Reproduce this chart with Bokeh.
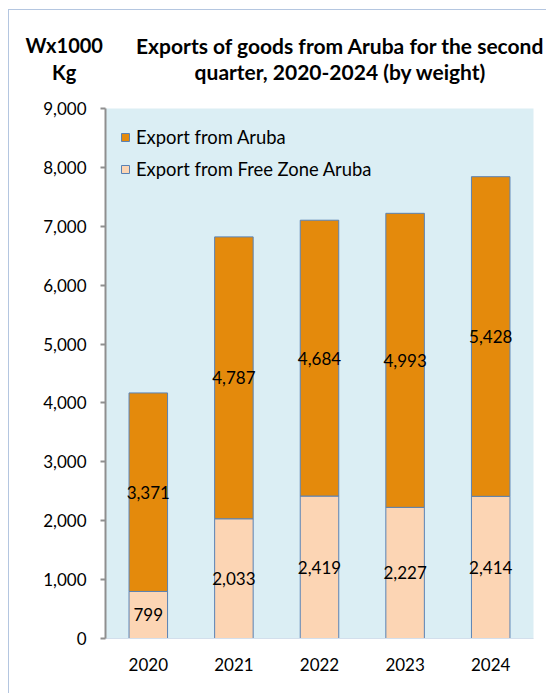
from bokeh.plotting import figure
from bokeh.models import (ColumnDataSource, Label, LabelSet, NumeralTickFormatter,
                          Range1d, FactorRange, Legend, LegendItem, FixedTicker)
from bokeh.embed import file_html
from bokeh.resources import INLINE
from bokeh.core.properties import value

# ---- data ----
years = ["2020", "2021", "2022", "2023", "2024"]
free_zone = [799, 2033, 2419, 2227, 2414]
aruba = [3371, 4787, 4684, 4993, 5428]
y_ticks = [0, 1000, 2000, 3000, 4000, 5000, 6000, 7000, 8000, 9000]
series_names = ["Export from Aruba", "Export from Free Zone Aruba"]
title_lines = ["Exports of goods from Aruba for the second", "quarter, 2020-2024 (by weight)"]
unit_lines = ["Wx1000", "Kg"]

totals = [a + f for a, f in zip(aruba, free_zone)]
src = ColumnDataSource(dict(
    year=years,
    fz=free_zone,
    total=totals,
    fz_mid=[f / 2 for f in free_zone],
    ar_mid=[f + a / 2 for f, a in zip(free_zone, aruba)],
    fz_lbl=[f"{v:,}" for v in free_zone],
    ar_lbl=[f"{v:,}" for v in aruba],
))

FONT = "Lato"
ORANGE = "#E48A0C"
PEACH = "#FCD5B4"
EDGE = "#5A82B4"
BG = "#DBEEF4"

p = figure(x_range=FactorRange(*years), y_range=Range1d(0, 9000),
           width=538, height=684, output_backend="svg", toolbar_location=None,
           min_border_left=96, min_border_right=14, min_border_top=98, min_border_bottom=56)
p.margin = (9, 0, 0, 8)
p.styles = {"border-left": "1px solid #B4C6E0", "border-top": "1px solid #B4C6E0"}

p.background_fill_color = BG
p.border_fill_color = "white"
p.outline_line_color = None
p.xgrid.grid_line_color = None
p.ygrid.grid_line_color = None

r_fz = p.vbar(x="year", bottom=0, top="fz", width=0.45, source=src,
              fill_color=PEACH, line_color=EDGE, line_width=1)
r_ar = p.vbar(x="year", bottom="fz", top="total", width=0.45, source=src,
              fill_color=ORANGE, line_color=EDGE, line_width=1)

for col_y, col_t in (("fz_mid", "fz_lbl"), ("ar_mid", "ar_lbl")):
    p.add_layout(LabelSet(x="year", y=col_y, text=col_t, source=src,
                          text_align="center", text_baseline="middle",
                          text_font=value(FONT), text_font_size="17px", text_color="black"))

p.yaxis.ticker = FixedTicker(ticks=y_ticks)
p.yaxis.formatter = NumeralTickFormatter(format="0,0")
p.yaxis.major_label_text_font = FONT
p.yaxis.major_label_text_font_size = "17px"
p.yaxis.major_label_text_color = "black"
p.yaxis.axis_line_color = "#8F8F8F"
p.yaxis.axis_line_width = 2
p.yaxis.major_tick_line_color = "#8F8F8F"
p.yaxis.major_tick_line_width = 2
p.yaxis.major_tick_in = 0
p.yaxis.major_tick_out = 5
p.yaxis.minor_tick_line_color = None
p.yaxis.major_label_standoff = 14

p.xaxis.axis_line_color = "#D3DFEC"
p.xaxis.axis_line_width = 1
p.xaxis.major_tick_line_color = None
p.xaxis.major_tick_out = 0
p.xaxis.major_tick_in = 0
p.xaxis.minor_tick_line_color = None
p.xaxis.major_label_text_font = FONT
p.xaxis.major_label_text_font_size = "17px"
p.xaxis.major_label_text_color = "black"
p.xaxis.major_label_standoff = 19

legend = Legend(items=[LegendItem(label=series_names[0], renderers=[r_ar]),
                       LegendItem(label=series_names[1], renderers=[r_fz])],
                location=(15, 458), padding=0, margin=0, spacing=10,
                glyph_width=10, glyph_height=10, label_height=22, label_standoff=6,
                label_text_font=FONT, label_text_font_size="18.4px", label_text_color="black",
                border_line_color=None, background_fill_alpha=0)
p.add_layout(legend)

# header texts, placed in the top panel so they are not clipped by the frame
for i, t in enumerate(title_lines):
    p.add_layout(Label(x=2.745, y=10070 - i * 450, text=t, text_align="center",
                       text_baseline="middle", text_font=FONT, text_font_style="bold",
                       text_font_size="21px", text_color="black"), "above")
for i, t in enumerate(unit_lines):
    p.add_layout(Label(x=-0.482, y=10070 - i * 450, text=t, text_align="center",
                       text_baseline="middle", text_font=FONT, text_font_style="bold",
                       text_font_size="20px", text_color="black"), "above")

open("out.html", "w").write(file_html(p, INLINE))
